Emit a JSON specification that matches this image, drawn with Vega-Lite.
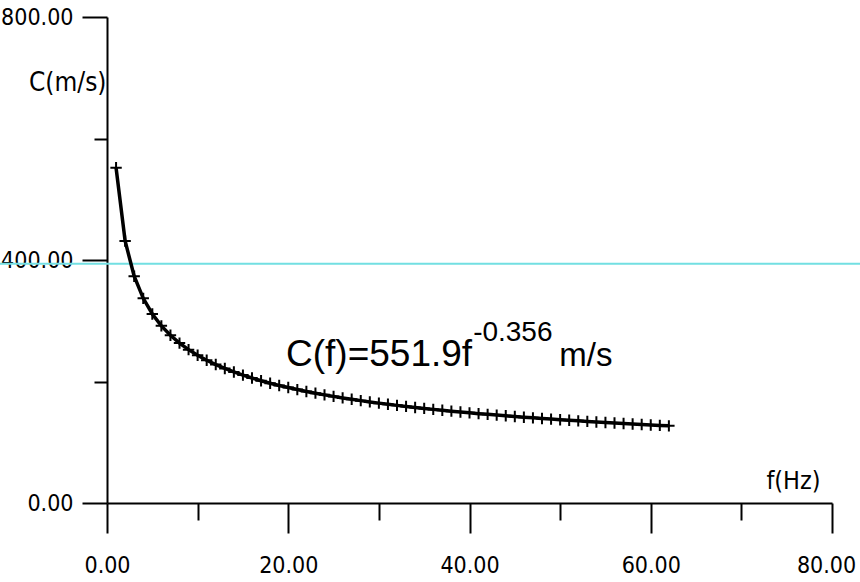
{
  "$schema": "https://vega.github.io/schema/vega-lite/v6.json",
  "width": 725,
  "height": 486,
  "autosize": {"type": "none"},
  "padding": {"left": 107, "top": 17, "right": 28, "bottom": 79},
  "background": "white",
  "config": {"view": {"stroke": null}},
  "datasets": {
    "curve": [
      {"f": 1, "c": 551.9}, {"f": 2, "c": 431.2}, {"f": 3, "c": 373.2}, {"f": 4, "c": 336.9},
      {"f": 5, "c": 311.2}, {"f": 6, "c": 291.6}, {"f": 7, "c": 276.1}, {"f": 8, "c": 263.2},
      {"f": 9, "c": 252.4}, {"f": 10, "c": 243.1}, {"f": 11, "c": 235.0}, {"f": 12, "c": 227.9},
      {"f": 13, "c": 221.5}, {"f": 14, "c": 215.7}, {"f": 15, "c": 210.5}, {"f": 16, "c": 205.7},
      {"f": 17, "c": 201.3}, {"f": 18, "c": 197.2}, {"f": 19, "c": 193.5}, {"f": 20, "c": 190.0},
      {"f": 21, "c": 186.7}, {"f": 22, "c": 183.6}, {"f": 23, "c": 180.8}, {"f": 24, "c": 178.0},
      {"f": 25, "c": 175.5}, {"f": 26, "c": 173.0}, {"f": 27, "c": 170.7}, {"f": 28, "c": 168.5},
      {"f": 29, "c": 166.4}, {"f": 30, "c": 164.4}, {"f": 31, "c": 162.5}, {"f": 32, "c": 160.7},
      {"f": 33, "c": 159.0}, {"f": 34, "c": 157.3}, {"f": 35, "c": 155.7}, {"f": 36, "c": 154.1},
      {"f": 37, "c": 152.6}, {"f": 38, "c": 151.2}, {"f": 39, "c": 149.8}, {"f": 40, "c": 148.4},
      {"f": 41, "c": 147.1}, {"f": 42, "c": 145.9}, {"f": 43, "c": 144.7}, {"f": 44, "c": 143.5},
      {"f": 45, "c": 142.3}, {"f": 46, "c": 141.2}, {"f": 47, "c": 140.2}, {"f": 48, "c": 139.1},
      {"f": 49, "c": 138.1}, {"f": 50, "c": 137.1}, {"f": 51, "c": 136.1}, {"f": 52, "c": 135.2},
      {"f": 53, "c": 134.3}, {"f": 54, "c": 133.4}, {"f": 55, "c": 132.5}, {"f": 56, "c": 131.7},
      {"f": 57, "c": 130.9}, {"f": 58, "c": 130.0}, {"f": 59, "c": 129.3}, {"f": 60, "c": 128.5},
      {"f": 61, "c": 127.7}, {"f": 62, "c": 127.0}
    ],
    "ref": [{"f": -12, "f2": 84, "c": 394}],
    "notes": [
      {"f": 19.75, "c": 225.5, "label": "C(f)=551.9f"}
    ],
    "units": [
      {"f": 49.9, "c": 225.5, "label": "m/s"}
    ],
    "sup": [{"f": 40.4, "c": 266.5, "label": "-0.356"}]
  },
  "encoding": {
    "x": {
      "field": "f",
      "type": "quantitative",
      "scale": {"domain": [0, 80], "nice": false, "zero": false},
      "axis": {
        "title": "f(Hz)",
        "values": [0, 10, 20, 30, 40, 50, 60, 70, 80],
        "labelExpr": "datum.value % 20 === 0 ? format(datum.value, '.2f') : ''",
        "tickSize": {"condition": {"test": "datum.value % 20 === 0", "value": 30}, "value": 17},
        "labelOffset": {"condition": {"test": "datum.value === 80", "value": -6}, "value": 0},
        "tickColor": "black",
        "tickWidth": 2,
        "domainColor": "black",
        "domainWidth": 2,
        "grid": false,
        "labelFont": "DejaVu Sans Condensed, Liberation Sans, Arial",
        "labelFontSize": 23,
        "labelColor": "black",
        "labelPadding": 21,
        "labelFlush": false,
        "titleFont": "DejaVu Sans Condensed, Liberation Sans, Arial",
        "titleFontSize": 25,
        "titleFontWeight": "normal",
        "titleColor": "black",
        "titleX": 686,
        "titleY": -23,
        "titleAlign": "center",
        "titleBaseline": "middle"
      }
    },
    "y": {
      "field": "c",
      "type": "quantitative",
      "scale": {"domain": [0, 800], "nice": false},
      "axis": {
        "title": "C(m/s)",
        "values": [0, 200, 400, 600, 800],
        "labelExpr": "datum.value % 400 === 0 ? format(datum.value, '.2f') : ''",
        "tickSize": {"condition": {"test": "datum.value % 400 === 0", "value": 25}, "value": 13},
        "tickColor": "black",
        "tickWidth": 2,
        "domainColor": "black",
        "domainWidth": 2,
        "grid": false,
        "labelFont": "DejaVu Sans Condensed, Liberation Sans, Arial",
        "labelFontSize": 23,
        "labelColor": "black",
        "labelPadding": 9,
        "labelFlush": false,
        "titleFont": "DejaVu Sans Condensed, Liberation Sans, Arial",
        "titleFontSize": 26,
        "titleFontWeight": "normal",
        "titleColor": "black",
        "titleAngle": 0,
        "titleX": -1,
        "titleY": 65,
        "titleAlign": "right",
        "titleBaseline": "middle"
      }
    }
  },
  "layer": [
    {
      "data": {"name": "ref"},
      "mark": {"type": "rule", "color": "#72dfe2", "strokeWidth": 2},
      "encoding": {"x2": {"field": "f2"}}
    },
    {
      "data": {"name": "curve"},
      "mark": {"type": "line", "color": "black", "strokeWidth": 3.5}
    },
    {
      "data": {"name": "curve"},
      "mark": {"type": "point", "shape": "M0,-1V1M-1,0H1", "filled": false, "color": "black", "strokeWidth": 2, "size": 130, "opacity": 1}
    },
    {
      "data": {"name": "notes"},
      "mark": {"type": "text", "align": "left", "baseline": "alphabetic", "font": "Liberation Sans, Arial", "fontSize": 37, "color": "black"},
      "encoding": {"text": {"field": "label"}}
    },
    {
      "data": {"name": "units"},
      "mark": {"type": "text", "align": "left", "baseline": "alphabetic", "font": "Liberation Sans, Arial", "fontSize": 33, "color": "black"},
      "encoding": {"text": {"field": "label"}}
    },
    {
      "data": {"name": "sup"},
      "mark": {"type": "text", "align": "left", "baseline": "alphabetic", "font": "Liberation Sans, Arial", "fontSize": 28, "color": "black"},
      "encoding": {"text": {"field": "label"}}
    }
  ]
}
